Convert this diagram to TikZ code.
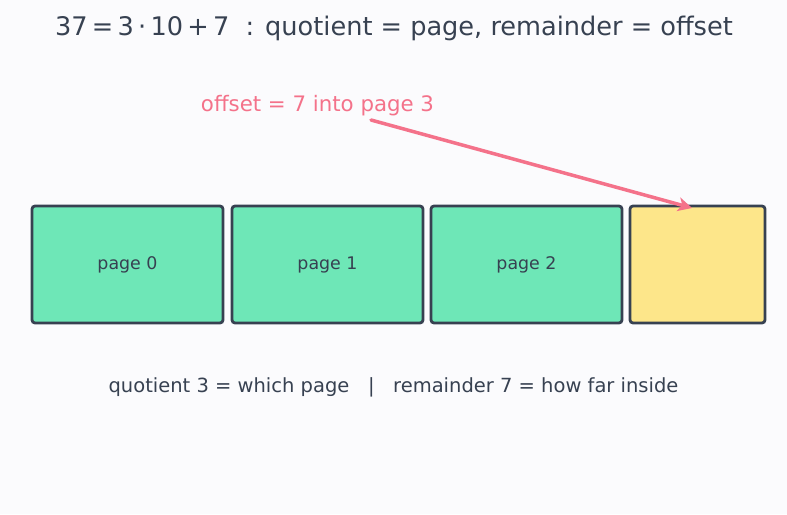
\documentclass[tikz,border=0pt]{standalone}
\usepackage{fontspec}
\setmainfont{DejaVu Sans}
\usetikzlibrary{arrows.meta}
\definecolor{bgc}{HTML}{FBFBFD}
\definecolor{ink}{HTML}{374151}
\definecolor{pgreen}{HTML}{6EE7B7}
\definecolor{pyellow}{HTML}{FDE68A}
\definecolor{pinkc}{HTML}{F4728A}
\tikzset{
  pagebox/.style={draw=ink, line width=2.8pt, rounded corners=3pt, fill=pgreen,
    minimum height=117pt, inner sep=0pt, text=ink,
    font=\fontsize{17.4pt}{20pt}\selectfont},
  conn/.style={draw=pinkc, line width=3.5pt, line cap=round,
    -{Stealth[length=14pt,width=14pt,inset=4pt]}},
}
\begin{document}
\begin{tikzpicture}[x=1pt,y=-1pt]
\fill[bgc] (0,0) rectangle (787,514);
\useasboundingbox (0,0) rectangle (787,514);
\node[text=ink, font=\fontsize{25.6pt}{30pt}\selectfont] (title) at (394,28.5)
  {37\,=\,3\,·\,10\,+\,7\ \ : quotient = page, remainder = offset};
\node[text=pinkc, font=\fontsize{21.3pt}{25pt}\selectfont] (lbl) at (317.5,105.5)
  {offset = 7 into page 3};
\node[pagebox, minimum width=191pt] (p0) at (127.5,264.5) {page 0};
\node[pagebox, minimum width=191pt] (p1) at (327.5,264.5) {page 1};
\node[pagebox, minimum width=191pt] (p2) at (526.5,264.5) {page 2};
\node[pagebox, minimum width=135pt, fill=pyellow] (p3) at (697.5,264.5) {};
\coordinate (s) at (371,120);
\coordinate (t) at (692,208);
\draw[conn] (s) -- (t);
\node[text=ink, font=\fontsize{19.5pt}{23pt}\selectfont] (note) at (393.5,387.5)
  {quotient 3 = which page \ \ | \ \ remainder 7 = how far inside};
\end{tikzpicture}
\end{document}
